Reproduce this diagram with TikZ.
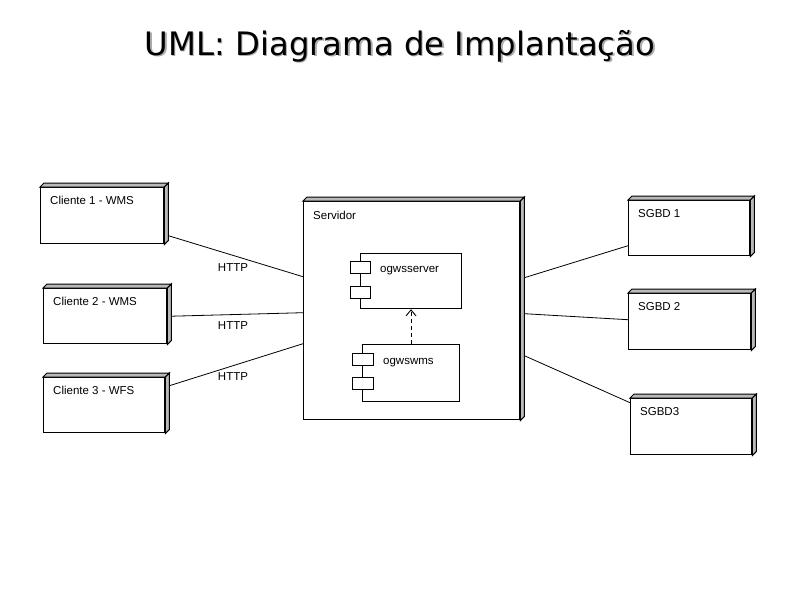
\documentclass[tikz,border=0pt]{standalone}
\usepackage{fontspec}
\setmainfont{Liberation Sans}
\newfontfamily\titlefont{DejaVu Sans}
\usetikzlibrary{arrows.meta,calc}
\tikzset{
  nodebox/.style={draw, line width=1.4pt, fill=white, rectangle, anchor=north west, inner sep=0pt},
  boxlbl/.style={anchor=north west, font=\fontsize{11.5}{13}\selectfont, inner sep=0pt},
  comp/.style={draw, line width=1.2pt, fill=white, rectangle, anchor=north west, inner sep=0pt},
  port/.style={draw, line width=1.2pt, fill=white, rectangle, anchor=north west, inner sep=0pt},
  link/.style={line width=0.8pt},
  lbl/.style={font=\fontsize{11.5}{13}\selectfont, inner sep=0pt},
  face/.style={draw, line width=1pt, fill=gray!55},
}
\newcommand{\depthof}[1]{%
  \path[face] (#1.north west) -- ++(4pt,4pt) -- ($(#1.north east)+(4pt,4pt)$) -- (#1.north east) -- cycle;
  \path[face] (#1.north east) -- ++(4pt,4pt) -- ($(#1.south east)+(4pt,4pt)$) -- (#1.south east) -- cycle;
}
\begin{document}
\begin{tikzpicture}[x=1pt,y=-1pt]
\useasboundingbox (0,0) rectangle (800,600);
% title
\node[anchor=base, font=\titlefont\fontsize{32.3}{38}\selectfont, text=gray!65] (titleshadow) at (401.5,56.5) {UML: Diagrama de Implantação};
\node[anchor=base, font=\titlefont\fontsize{32.3}{38}\selectfont] (title) at (400,55) {UML: Diagrama de Implantação};

% clients
\node[nodebox, minimum width=123pt, minimum height=56pt,
      label={[boxlbl, xshift=10pt, yshift=-9pt]north west:Cliente 1 - WMS}] (c1) at (40,187) {};
\depthof{c1}
\node[nodebox, minimum width=123pt, minimum height=55pt,
      label={[boxlbl, xshift=10pt, yshift=-9pt]north west:Cliente 2 - WMS}] (c2) at (43,288) {};
\depthof{c2}
\node[nodebox, minimum width=121pt, minimum height=55pt,
      label={[boxlbl, xshift=10pt, yshift=-9pt]north west:Cliente 3 - WFS}] (c3) at (43,377) {};
\depthof{c3}

% server
\node[nodebox, minimum width=216pt, minimum height=218pt,
      label={[boxlbl, xshift=10pt, yshift=-10pt]north west:Servidor}] (srv) at (303,201) {};
\depthof{srv}

% components
\node[comp, minimum width=101pt, minimum height=55pt] (cs) at (360,253) {};
\node[anchor=base west, lbl] (cstxt) at (380,272) {ogwsserver};
\node[port, minimum width=20pt, minimum height=12pt] (csp1) at (350,261) {};
\node[port, minimum width=20pt, minimum height=12pt] (csp2) at (350,286) {};

\node[comp, minimum width=97pt, minimum height=57pt] (cw) at (362,344) {};
\node[anchor=base west, lbl] (cwtxt) at (383,364) {ogwswms};
\node[port, minimum width=21pt, minimum height=12pt] (cwp1) at (352,353) {};
\node[port, minimum width=21pt, minimum height=12pt] (cwp2) at (352,377) {};

\draw[line width=0.9pt, dashed, dash pattern=on 4pt off 3pt, -{Straight Barb[length=6pt,width=10pt,line width=0.9pt]}]
  (cw.north -| 411,0) -- (cs.south -| 411,0);

% databases
\node[nodebox, minimum width=121pt, minimum height=55pt,
      label={[boxlbl, xshift=10pt, yshift=-9pt]north west:SGBD 1}] (d1) at (628,200) {};
\depthof{d1}
\node[nodebox, minimum width=122pt, minimum height=56pt,
      label={[boxlbl, xshift=10pt, yshift=-9pt]north west:SGBD 2}] (d2) at (628,293) {};
\depthof{d2}
\node[nodebox, minimum width=121pt, minimum height=56pt,
      label={[boxlbl, xshift=10pt, yshift=-9pt]north west:SGBD3}] (d3) at (630,398) {};
\depthof{d3}

% links
\draw[link] ([shift={(4pt,-20pt)}]c1.east) -- ([yshift=34pt]srv.west);
\draw[link] ([shift={(4pt,0pt)}]c2.east) -- ([yshift=-2pt]srv.west);
\draw[link] ([shift={(4pt,19.5pt)}]c3.east) -- ([yshift=-33pt]srv.west);
\node[lbl] (h1) at (233,268) {HTTP};
\node[lbl] (h2) at (233,326) {HTTP};
\node[lbl] (h3) at (233,377) {HTTP};

\draw[link] ([shift={(4pt,33pt)}]srv.east) -- ([yshift=-17.5pt]d1.west);
\draw[link] ([shift={(4pt,-3pt)}]srv.east) -- ([yshift=2pt]d2.west);
\draw[link] ([shift={(4pt,-45pt)}]srv.east) -- ([yshift=24pt]d3.west);
\end{tikzpicture}
\end{document}
